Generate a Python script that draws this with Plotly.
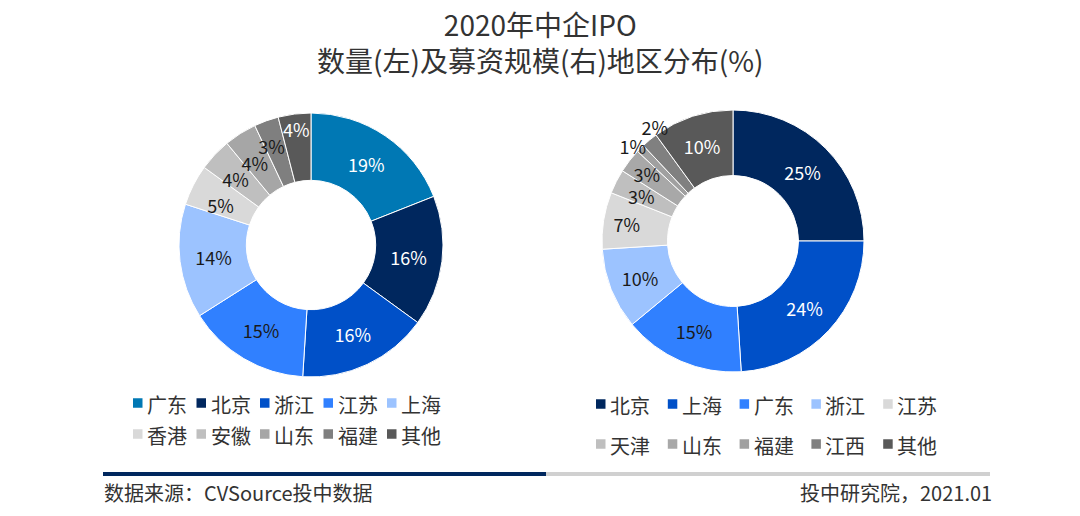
import plotly.graph_objects as go

W, H = 1080, 516
FONT = "Noto Sans CJK SC"

# left donut: number of IPOs by region (%)
left_labels = ["广东", "北京", "浙江", "江苏", "上海", "香港", "安徽", "山东", "福建", "其他"]
left_values = [19, 16, 16, 15, 14, 5, 4, 4, 3, 4]
left_colors = ["#0078B4", "#00275E", "#0050C8", "#3080FF", "#9CC3FF",
               "#D9D9D9", "#BFBFBF", "#A6A6A6", "#7F7F7F", "#595959"]
left_text_colors = ["white", "white", "white", "#1a1a1a", "#1a1a1a",
                    "#1a1a1a", "#1a1a1a", "#1a1a1a", "#1a1a1a", "white"]

# right donut: funds raised by region (%)
right_labels = ["北京", "上海", "广东", "浙江", "江苏", "天津", "山东", "福建", "江西", "其他"]
right_values = [25, 24, 15, 10, 7, 3, 3, 1, 2, 10]
right_colors = ["#00275E", "#0050C8", "#3080FF", "#9CC3FF", "#D9D9D9",
                "#BFBFBF", "#A8A8A8", "#A0A0A0", "#808080", "#595959"]
right_text_colors = ["white", "white", "#1a1a1a", "#1a1a1a", "#1a1a1a",
                     "#1a1a1a", "#1a1a1a", "#1a1a1a", "#1a1a1a", "white"]

# label placement for the thin slices: (extra rotation in degrees, radius in px)
left_small = {"香港": (1, 80), "安徽": (3.3, 81), "山东": (5.4, 80), "福建": (7.1, 89)}
right_small = {"天津": (3, 83), "山东": (4.7, 90), "福建": (2.5, 119), "江西": (10.3, 119.5)}

LEFT_C, LEFT_R = (311, 245), 132
RIGHT_C, RIGHT_R = (733, 241), 131


def px_x(p):
    return p / W


def px_y(p):
    return 1 - p / H


def dom(center, r):
    cx, cy = center
    return dict(x=[px_x(cx - r), px_x(cx + r)], y=[px_y(cy + r), px_y(cy - r)])


fig = go.Figure()


def add_donut(labels, values, colors, text_colors, center, r, hole, small):
    tmpl = ["" if lab in small else "%{value}%" for lab in labels]
    fig.add_trace(go.Pie(
        labels=labels, values=values,
        hole=hole, sort=False, direction="clockwise", rotation=0,
        marker=dict(colors=colors, line=dict(color="white", width=1)),
        texttemplate=tmpl, textposition="inside",
        insidetextorientation="horizontal",
        textfont=dict(family=FONT, size=18, color=text_colors),
        domain=dom(center, r), showlegend=False,
    ))
    # thin slices: label drawn by a transparent twin pie, one label each,
    # so the labels sit close to the ring without leader lines
    for lab, (rot, rr) in small.items():
        fig.add_trace(go.Pie(
            labels=labels, values=values,
            sort=False, direction="clockwise", rotation=rot,
            marker=dict(colors=["rgba(0,0,0,0)"] * len(labels), line=dict(width=0)),
            texttemplate=["%{value}%" if l == lab else "" for l in labels],
            textposition="outside",
            textfont=dict(family=FONT, size=18, color="#1a1a1a"),
            domain=dom(center, rr), showlegend=False, hoverinfo="skip",
        ))


add_donut(left_labels, left_values, left_colors, left_text_colors,
          LEFT_C, LEFT_R, 0.49, left_small)
add_donut(right_labels, right_values, right_colors, right_text_colors,
          RIGHT_C, RIGHT_R, 0.5, right_small)

annotations = [
    dict(text="2020年中企IPO<br>数量(左)及募资规模(右)地区分布(%)",
         x=px_x(540), y=px_y(2), xref="paper", yref="paper",
         xanchor="center", yanchor="top", showarrow=False,
         font=dict(family=FONT, size=28, color="#333333")),
    dict(text="数据来源：CVSource投中数据",
         x=px_x(102), y=px_y(492), xref="paper", yref="paper",
         xanchor="left", yanchor="middle", showarrow=False,
         font=dict(family=FONT, size=20, color="#333333")),
    dict(text="投中研究院，2021.01",
         x=px_x(994), y=px_y(492), xref="paper", yref="paper",
         xanchor="right", yanchor="middle", showarrow=False,
         font=dict(family=FONT, size=20, color="#333333")),
]

shapes = [
    dict(type="line", xref="paper", yref="paper",
         x0=px_x(103), x1=px_x(546), y0=px_y(474), y1=px_y(474),
         line=dict(color="#00275E", width=4)),
    dict(type="line", xref="paper", yref="paper",
         x0=px_x(546), x1=px_x(990), y0=px_y(474), y1=px_y(474),
         line=dict(color="#D0D0D0", width=4)),
]


# hand-made legends: two rows of five per donut
def add_legend(labels, colors, x_start, step, rows_y):
    for i, (lab, col) in enumerate(zip(labels, colors)):
        row, k = divmod(i, 5)
        x0 = x_start + k * step
        yc = rows_y[row]
        shapes.append(dict(type="rect", xref="paper", yref="paper",
                           x0=px_x(x0), x1=px_x(x0 + 9.5),
                           y0=px_y(yc + 4.75), y1=px_y(yc - 4.75),
                           fillcolor=col, line=dict(width=0)))
        annotations.append(dict(text=lab, x=px_x(x0 + 12), y=px_y(yc + 1),
                                xref="paper", yref="paper",
                                xanchor="left", yanchor="middle", showarrow=False,
                                font=dict(family=FONT, size=20, color="#333333")))


add_legend(left_labels, left_colors, 133, 63.5, [403, 434])
add_legend(right_labels, right_colors, 596, 71.8, [404, 444])

fig.update_layout(
    width=W, height=H,
    margin=dict(l=0, r=0, t=0, b=0),
    paper_bgcolor="white", plot_bgcolor="white",
    uniformtext=dict(minsize=18, mode="show"),
    annotations=annotations, shapes=shapes,
    font=dict(family=FONT),
)

# drop the default body margin so the figure sits at the page corner
fig.write_html("out.html", config={"displayModeBar": False},
               post_script="document.body.style.margin='0px';")
